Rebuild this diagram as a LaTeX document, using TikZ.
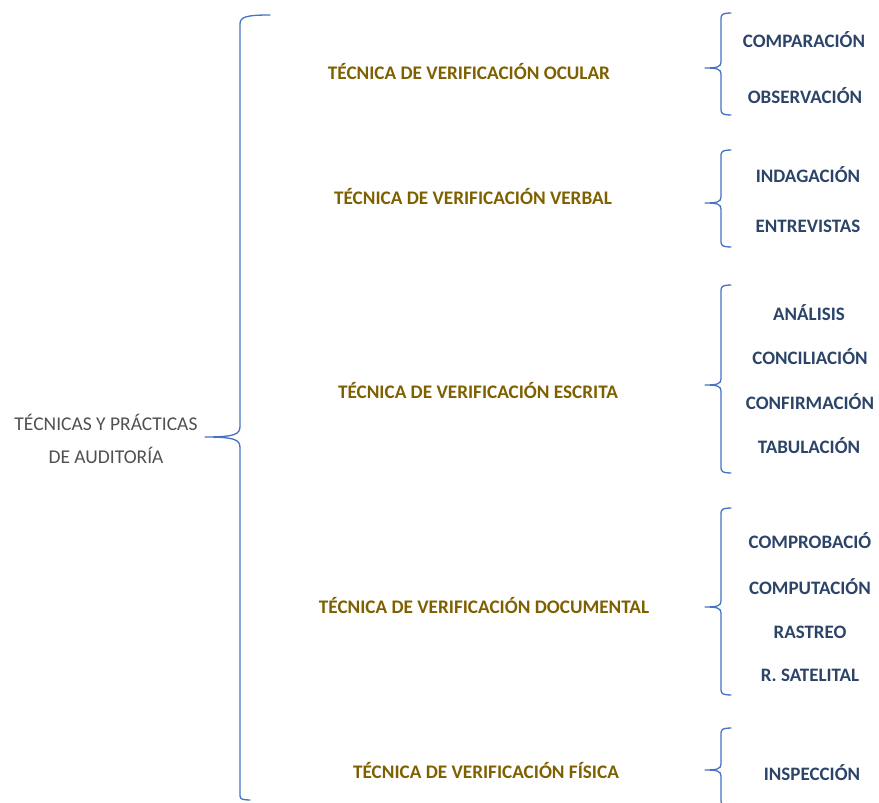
\documentclass[tikz,border=0pt]{standalone}
\usepackage{fontspec}
\setmainfont{Carlito}
\begin{document}
\definecolor{bracecol}{HTML}{4472C4}
\definecolor{goldtxt}{HTML}{7F6000}
\definecolor{navytxt}{HTML}{2B4468}
\definecolor{greytxt}{HTML}{505050}
\begin{tikzpicture}[x=1pt,y=-1pt,
  brace/.style={draw=bracecol,line width=1.3pt,line cap=round,line join=round},
  roottxt/.style={text=greytxt,font=\fontsize{19.5}{21}\selectfont,align=center,inner sep=0pt},
  grouptxt/.style={text=goldtxt,font=\bfseries\fontsize{19.2}{21}\selectfont,inner sep=0pt},
  leaftxt/.style={text=navytxt,font=\bfseries\fontsize{19}{21}\selectfont,inner sep=0pt}]
\useasboundingbox (0,0) rectangle (879,803);

% root label
\node[roottxt] (root1) at (106,422) {TÉCNICAS Y PRÁCTICAS};
\node[roottxt] (root2) at (106,455) {DE AUDITORÍA};

% group labels
\node[grouptxt] (ocular) at (469,72) {TÉCNICA DE VERIFICACIÓN OCULAR};
\node[grouptxt] (verbal) at (473,197) {TÉCNICA DE VERIFICACIÓN VERBAL};
\node[grouptxt] (escrita) at (478,390) {TÉCNICA DE VERIFICACIÓN ESCRITA};
\node[grouptxt] (documental) at (484,606) {TÉCNICA DE VERIFICACIÓN DOCUMENTAL};
\node[grouptxt] (fisica) at (486,770) {TÉCNICA DE VERIFICACIÓN FÍSICA};

% leaf labels
\node[leaftxt] (comparacion) at (804,40) {COMPARACIÓN};
\node[leaftxt] (observacion) at (805,96) {OBSERVACIÓN};
\node[leaftxt] (indagacion) at (808,175) {INDAGACIÓN};
\node[leaftxt] (entrevistas) at (808,226) {ENTREVISTAS};
\node[leaftxt] (analisis) at (809,313) {ANÁLISIS};
\node[leaftxt] (conciliacion) at (810,357) {CONCILIACIÓN};
\node[leaftxt] (confirmacion) at (810,402) {CONFIRMACIÓN};
\node[leaftxt] (tabulacion) at (809,446) {TABULACIÓN};
\node[leaftxt] (comprobacion) at (810,541) {COMPROBACIÓ};
\node[leaftxt] (computacion) at (810,587) {COMPUTACIÓN};
\node[leaftxt] (rastreo) at (810,632) {RASTREO};
\node[leaftxt] (satelital) at (810,675) {R. SATELITAL};
\node[leaftxt] (inspeccion) at (812,773) {INSPECCIÓN};

% main brace
\coordinate (mtop) at (270,15);
\coordinate (mtip) at (205,437);
\coordinate (mbot) at (250,800);
\draw[brace] (mtop) .. controls (246,15) and (240,17) .. (240,24)
  -- (240,426) .. controls (240,434) and (236,437) .. (mtip)
  .. controls (236,437) and (240,440) .. (240,448)
  -- (240,796) .. controls (240,799) and (243,800) .. (mbot);

% small braces: top y, tip y, bottom y
\foreach \t/\m/\b/\n in {13/68/115/1, 150/203/247/2, 285/385/473/3, 508/607/695/4, 728/770/806/5}{
  \coordinate (btop\n) at (731,\t);
  \coordinate (btip\n) at (705,\m);
  \coordinate (bbot\n) at (731,\b);
  \draw[brace] (btop\n) .. controls (724,\t) and (721,\t+1) .. (721,\t+5)
    -- (721,\m-6) .. controls (721,\m-1) and (717,\m) .. (btip\n)
    .. controls (717,\m) and (721,\m+1) .. (721,\m+6)
    -- (721,\b-5) .. controls (721,\b-1) and (724,\b) .. (bbot\n);
}
\end{tikzpicture}
\end{document}
